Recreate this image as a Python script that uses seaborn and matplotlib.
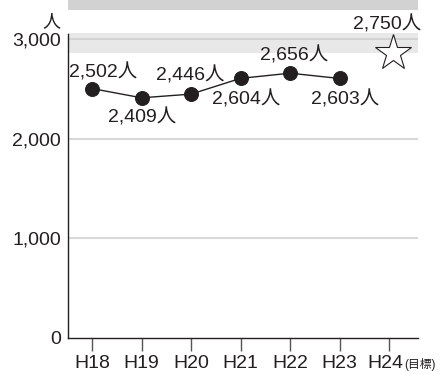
import matplotlib.pyplot as plt
import matplotlib.transforms as mtransforms
import pandas as pd
import seaborn as sns

# data
years = ["H18", "H19", "H20", "H21", "H22", "H23"]
people = [2502, 2409, 2446, 2604, 2656, 2603]
target_year = "H24"
target = 2750
labels = ["2,502人", "2,409人", "2,446人", "2,604人", "2,656人", "2,603人"]
target_label = "2,750人"
y_ticks = [0, 1000, 2000, 3000]
y_tick_labels = ["0", "1,000", "2,000", "3,000"]

sns.set_style("white")
plt.rcParams['font.family'] = ['Liberation Sans', 'Noto Sans CJK JP', 'DejaVu Sans']

df = pd.DataFrame({"x": range(len(years)), "people": people})

fig = plt.figure(figsize=(4.45, 3.74), dpi=100)
ax = fig.add_axes([68 / 445, 36 / 374, 350 / 445, 338 / 374])

# grey bands / grid
ax.axhspan(3290, 3400, color="#d2d2d2", lw=0, zorder=0)
ax.axhspan(2858, 3059, color="#e8e8e8", lw=0, zorder=0)
ax.axhline(3000, color="#cfcfcf", lw=1.2, zorder=1)
for v in [1000, 2000]:
    ax.axhline(v, color="#d8d8d8", lw=1.5, zorder=1)

sns.lineplot(data=df, x="x", y="people", ax=ax, color="#231f20", lw=1.0,
             marker="o", markersize=10, markeredgecolor="#231f20",
             markerfacecolor="#231f20", zorder=3)

# target star
off = mtransforms.offset_copy(ax.transData, fig=fig, x=4, y=11, units="dots")
ax.plot([len(years)], [target], marker="*", markersize=27, markerfacecolor="white",
        markeredgecolor="#231f20", markeredgewidth=0.8, transform=off, zorder=3)

# value labels
offsets = [(11, 16), (1, -20), (-1, 19), (6, -21), (4, 18), (6, -21)]
for i, (v, lab) in enumerate(zip(people, labels)):
    ax.annotate(lab, (i, v), xytext=offsets[i], textcoords="offset pixels",
                ha="center", va="center", fontsize=14, color="#231f20")
ax.annotate(target_label, (len(years), target), xytext=(-2, 39), textcoords="offset pixels",
            ha="center", va="center", fontsize=14, color="#231f20")

ax.set_xlim(-0.485, 6.585)
ax.set_ylim(0, 3390)
ax.set_xticks(range(len(years) + 1))
ax.set_xticklabels(years + [target_year], fontsize=14, color="#231f20")
ax.set_yticks(y_ticks)
ax.set_yticklabels(y_tick_labels, fontsize=14, color="#231f20")
ax.tick_params(axis="x", direction="out", length=9.5, width=1, color="#555555", pad=3,
               bottom=True)
ax.tick_params(axis="y", length=0, pad=5)
# nudge the last tick label left so the small (目標) fits after it
lbl = ax.get_xticklabels()[-1]
lbl.set_transform(lbl.get_transform() + mtransforms.ScaledTranslation(-4 / 100, 0, fig.dpi_scale_trans))
ax.set_xlabel("")
ax.set_ylabel("")

for s in ["top", "right"]:
    ax.spines[s].set_visible(False)
for s in ["left", "bottom"]:
    ax.spines[s].set_color("#231f20")
    ax.spines[s].set_linewidth(1.0)
ax.spines["left"].set_bounds(0, 3050)

ax.text(-0.046, 3170, "人", transform=ax.get_yaxis_transform(), fontsize=13,
        ha="center", va="center", color="#231f20")
ax.text(6.31, -270, "(目標)", fontsize=8.5, ha="left", va="center", color="#231f20",
        clip_on=False)

fig.savefig("out.png", dpi=100)
